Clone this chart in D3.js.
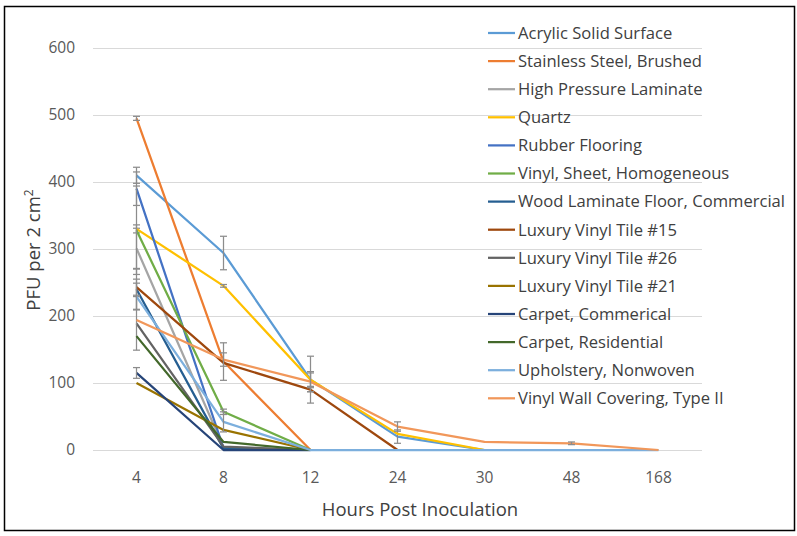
<!DOCTYPE html>
<html>
<head>
<meta charset="utf-8">
<script src="https://cdn.jsdelivr.net/npm/d3@7"></script>
<style>
  body { margin: 0; background: #fff; }
  svg text { font-family: "Open Sans", sans-serif; }
</style>
</head>
<body>
<div id="chart"></div>
<script>
// categories on the x axis (hours post inoculation)
var hours = ["4", "8", "12", "24", "30", "48", "168"];

var seriesNames = [
  "Acrylic Solid Surface",
  "Stainless Steel, Brushed",
  "High Pressure Laminate",
  "Quartz",
  "Rubber Flooring",
  "Vinyl, Sheet, Homogeneous",
  "Wood Laminate Floor, Commercial",
  "Luxury Vinyl Tile #15",
  "Luxury Vinyl Tile #26",
  "Luxury Vinyl Tile #21",
  "Carpet, Commerical",
  "Carpet, Residential",
  "Upholstery, Nonwoven",
  "Vinyl Wall Covering, Type II"
];

// PFU values, null where a series has no point
var acrylic      = [410, 294, 105, 20, 0, null, null];
var stainless    = [495, 132, 0, null, null, null, null];
var hpl          = [301, 4, 0, null, null, null, null];
var quartz       = [330, 245, 105, 24, 0, null, null];
var rubber       = [390, 3, 0, null, null, null, null];
var vinylSheet   = [328, 57, 0, null, null, null, null];
var woodLaminate = [240, 2, 0, null, null, null, null];
var lvt15        = [243, 130, 90, 0, null, null, null];
var lvt26        = [189, 5, 0, null, null, null, null];
var lvt21        = [100, 30, 0, null, null, null, null];
var carpetComm   = [115, 0, 0, null, null, null, null];
var carpetRes    = [170, 12, 0, null, null, null, null];
var upholstery   = [229, 42, 0, 0, 0, 0, 0];
var vinylWall    = [194, 135, 102, 35, 12, 10, 0];

// error bar half-widths (null = none)
var acrylicErr      = [12, 25, 35, 10, null, null, null];
var stainlessErr    = [3, 28, null, null, null, null, null];
var hplErr          = [30, null, null, null, null, null, null];
var quartzErr       = [6, 2, 10, null, null, null, null];
var rubberErr       = [25, null, null, null, null, null, null];
var vinylSheetErr   = [66, 4, null, null, null, null, null];
var woodLaminateErr = [30, null, null, null, null, null, null];
var lvt15Err        = [12, null, 3, null, null, null, null];
var lvt26Err        = [40, null, null, null, null, null, null];
var lvt21Err        = [null, null, null, null, null, null, null];
var carpetCommErr   = [8, null, null, null, null, null, null];
var carpetResErr    = [null, null, null, null, null, null, null];
var upholsteryErr   = [20, 15, null, null, null, null, null];
var vinylWallErr    = [null, 10, 15, 7, null, 2, null];

var colors = ["#5B9BD5", "#ED7D31", "#A5A5A5", "#FFC000", "#4472C4", "#70AD47",
              "#255E91", "#9E480E", "#636363", "#997300", "#264478", "#43682B",
              "#7CAFDD", "#F1975A"];

var yTicks = [0, 100, 200, 300, 400, 500, 600];

var allValues = [acrylic, stainless, hpl, quartz, rubber, vinylSheet, woodLaminate,
                 lvt15, lvt26, lvt21, carpetComm, carpetRes, upholstery, vinylWall];
var allErrors = [acrylicErr, stainlessErr, hplErr, quartzErr, rubberErr, vinylSheetErr,
                 woodLaminateErr, lvt15Err, lvt26Err, lvt21Err, carpetCommErr,
                 carpetResErr, upholsteryErr, vinylWallErr];

var series = seriesNames.map(function(name, i) {
  return { name: name, color: colors[i], values: allValues[i], errors: allErrors[i] };
});

var chartWidth = 797, chartHeight = 536;
var plot = { left: 93, right: 702, top: 48, bottom: 450 };

var svg = d3.select("#chart").append("svg")
    .attr("width", chartWidth)
    .attr("height", chartHeight);

svg.append("rect")
    .attr("x", 4.5).attr("y", 6.5)
    .attr("width", 790).attr("height", 524)
    .attr("fill", "#fff")
    .attr("stroke", "#000")
    .attr("stroke-width", 1.5);

var xScale = d3.scaleBand()
    .domain(hours)
    .range([plot.left, plot.right]);

var yScale = d3.scaleLinear()
    .domain([0, 600])
    .range([plot.bottom, plot.top]);

function xPos(h) { return xScale(h) + xScale.bandwidth() / 2; }

// gridlines
svg.append("g")
  .selectAll("line")
  .data(yTicks)
  .join("line")
    .attr("x1", plot.left).attr("x2", plot.right)
    .attr("y1", function(d) { return Math.round(yScale(d)) + 0.5; })
    .attr("y2", function(d) { return Math.round(yScale(d)) + 0.5; })
    .attr("stroke", "#D9D9D9")
    .attr("stroke-width", 1);

// y axis labels
var yAxis = d3.axisLeft(yScale).tickValues(yTicks).tickSize(0).tickPadding(18);
svg.append("g")
    .attr("transform", "translate(" + plot.left + ",0)")
    .call(yAxis)
    .call(function(g) { g.select(".domain").remove(); })
    .selectAll("text")
      .attr("font-family", "'Open Sans', sans-serif")
      .attr("font-size", 15.5)
      .attr("fill", "#595959");

// x axis labels
var xAxis = d3.axisBottom(xScale).tickSize(0).tickPadding(22);
svg.append("g")
    .attr("transform", "translate(0," + plot.bottom + ")")
    .call(xAxis)
    .call(function(g) { g.select(".domain").remove(); })
    .selectAll("text")
      .attr("font-family", "'Open Sans', sans-serif")
      .attr("font-size", 15.5)
      .attr("fill", "#595959");

// lines + error bars
var line = d3.line()
    .defined(function(d) { return d != null; })
    .x(function(d, i) { return xPos(hours[i]); })
    .y(function(d) { return yScale(d); });

series.forEach(function(s) {
  var g = svg.append("g");
  g.append("path")
      .datum(s.values)
      .attr("d", line)
      .attr("fill", "none")
      .attr("stroke", s.color)
      .attr("stroke-width", 2.25)
      .attr("stroke-linejoin", "round");

  var eb = s.values.map(function(v, i) {
    return { h: hours[i], v: v, e: s.errors[i] };
  }).filter(function(d) { return d.v != null && d.e != null; });

  var bars = g.selectAll("g.err").data(eb).join("g").attr("class", "err")
      .attr("stroke", "#8C8C8C").attr("stroke-width", 1.25);
  bars.append("line")
      .attr("x1", function(d) { return xPos(d.h); })
      .attr("x2", function(d) { return xPos(d.h); })
      .attr("y1", function(d) { return yScale(d.v + d.e); })
      .attr("y2", function(d) { return yScale(Math.max(0, d.v - d.e)); });
  [1, -1].forEach(function(sign) {
    bars.append("line")
        .attr("x1", function(d) { return xPos(d.h) - 3.5; })
        .attr("x2", function(d) { return xPos(d.h) + 3.5; })
        .attr("y1", function(d) { return yScale(Math.max(0, d.v + sign * d.e)); })
        .attr("y2", function(d) { return yScale(Math.max(0, d.v + sign * d.e)); });
  });
});

// legend
var legend = svg.append("g").attr("transform", "translate(488,33)");
var items = legend.selectAll("g")
  .data(series)
  .join("g")
    .attr("transform", function(d, i) { return "translate(0," + (i * 28.1) + ")"; });
items.append("line")
    .attr("x1", 0).attr("x2", 27)
    .attr("stroke", function(d) { return d.color; })
    .attr("stroke-width", 2.25);
items.append("text")
    .attr("x", 30)
    .attr("dy", "0.35em")
    .attr("font-size", 16.6)
    .attr("fill", "#404040")
    .text(function(d) { return d.name; });

// axis titles
var yTitle = svg.append("text")
    .attr("transform", "translate(40,250) rotate(-90)")
    .attr("text-anchor", "middle")
    .attr("font-size", 18.5)
    .attr("fill", "#404040");
yTitle.append("tspan").text("PFU per 2 cm");
yTitle.append("tspan").attr("dy", -7).attr("font-size", 12).text("2");

svg.append("text")
    .attr("x", 420).attr("y", 516)
    .attr("text-anchor", "middle")
    .attr("font-size", 18.5)
    .attr("fill", "#404040")
    .text("Hours Post Inoculation");
</script>
</body>
</html>
